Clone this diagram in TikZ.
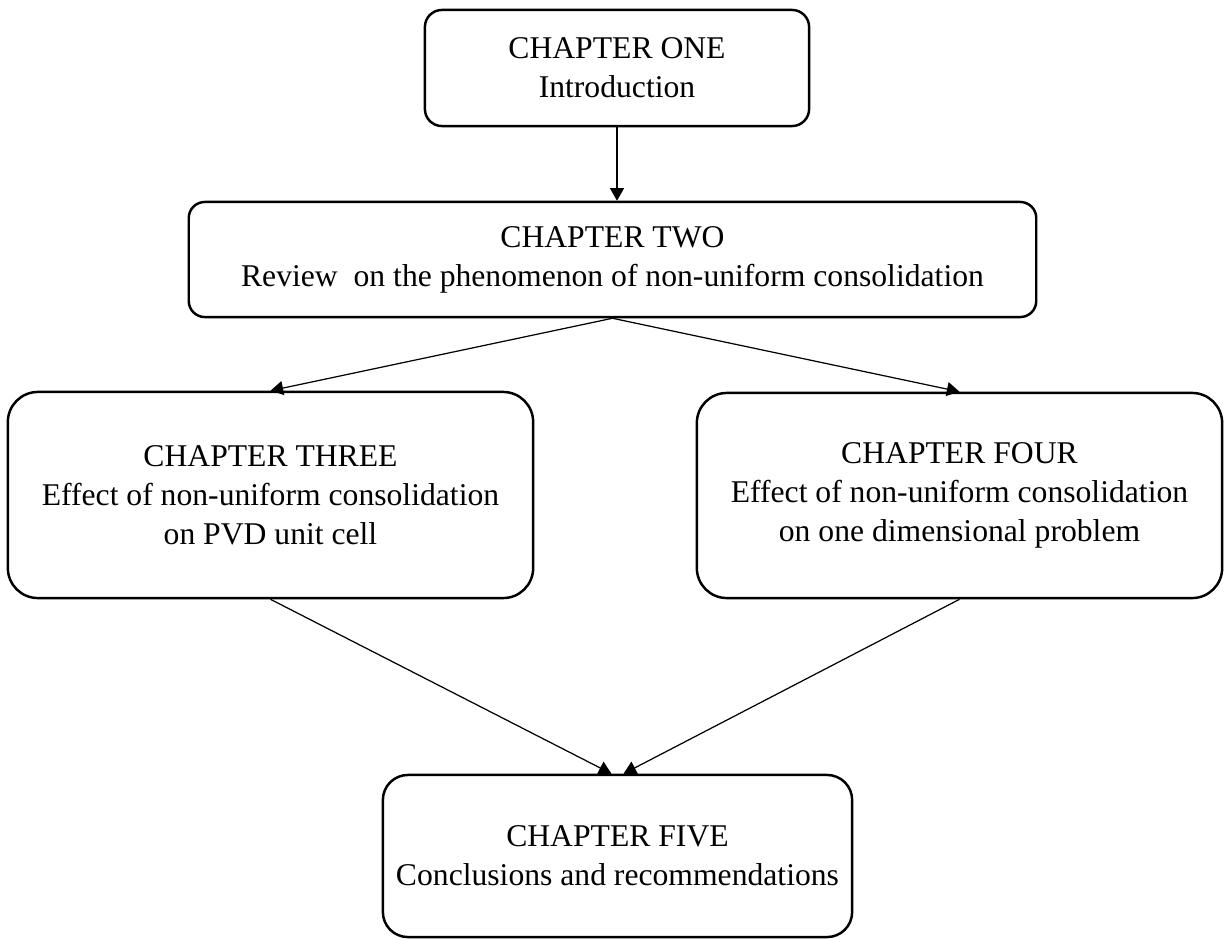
\documentclass[tikz,border=0pt]{standalone}
\usepackage{fontspec}
\setmainfont{Liberation Serif}
\usetikzlibrary{positioning}
\usetikzlibrary{arrows.meta}

\begin{document}
\begin{tikzpicture}[x=0.01cm, y=-0.01cm, line join=round,
    chapbox/.style={draw, line width=0.7pt, align=center, inner sep=0pt,
      font=\fontsize{9}{11.1}\selectfont},
    flow/.style={-{Triangle[length=3.6pt, width=4pt]}, line width=0.35pt}]
  \useasboundingbox (0,0) rectangle (1224,939);
  % chapter boxes
  \node[chapbox, rounded corners=0.17cm, minimum width=3.84cm, minimum height=1.16cm]
    (one) at (617,68) {CHAPTER ONE\\Introduction};
  \node[chapbox, rounded corners=0.16cm, minimum width=8.47cm, minimum height=1.15cm]
    (two) at (612.5,259.5) {CHAPTER TWO\\Review\ \ on the phenomenon of non-uniform consolidation};
  \node[chapbox, rounded corners=0.3cm, minimum width=5.25cm, minimum height=2.06cm]
    (three) at (270.5,495) {CHAPTER THREE\\Effect of non-uniform consolidation\\on PVD unit cell};
  \node[chapbox, rounded corners=0.3cm, minimum width=5.25cm, minimum height=2.05cm]
    (four) at (959.5,495.5) {CHAPTER FOUR\\Effect of non-uniform consolidation\\on one dimensional problem};
  \node[chapbox, rounded corners=0.25cm, minimum width=4.69cm, minimum height=1.62cm]
    (five) at (617.5,856) {CHAPTER FIVE\\Conclusions and recommendations};
  % arrows
  \draw[flow] (one.south) -- (one.south |- two.north);
  \draw[flow] (two.south) -- (three.north);
  \draw[flow] (two.south) -- (four.north);
  \draw[flow] (three.south) -- ([xshift=-0.06cm]five.north);
  \draw[flow] (four.south) -- ([xshift=0.06cm]five.north);
\end{tikzpicture}
\end{document}
